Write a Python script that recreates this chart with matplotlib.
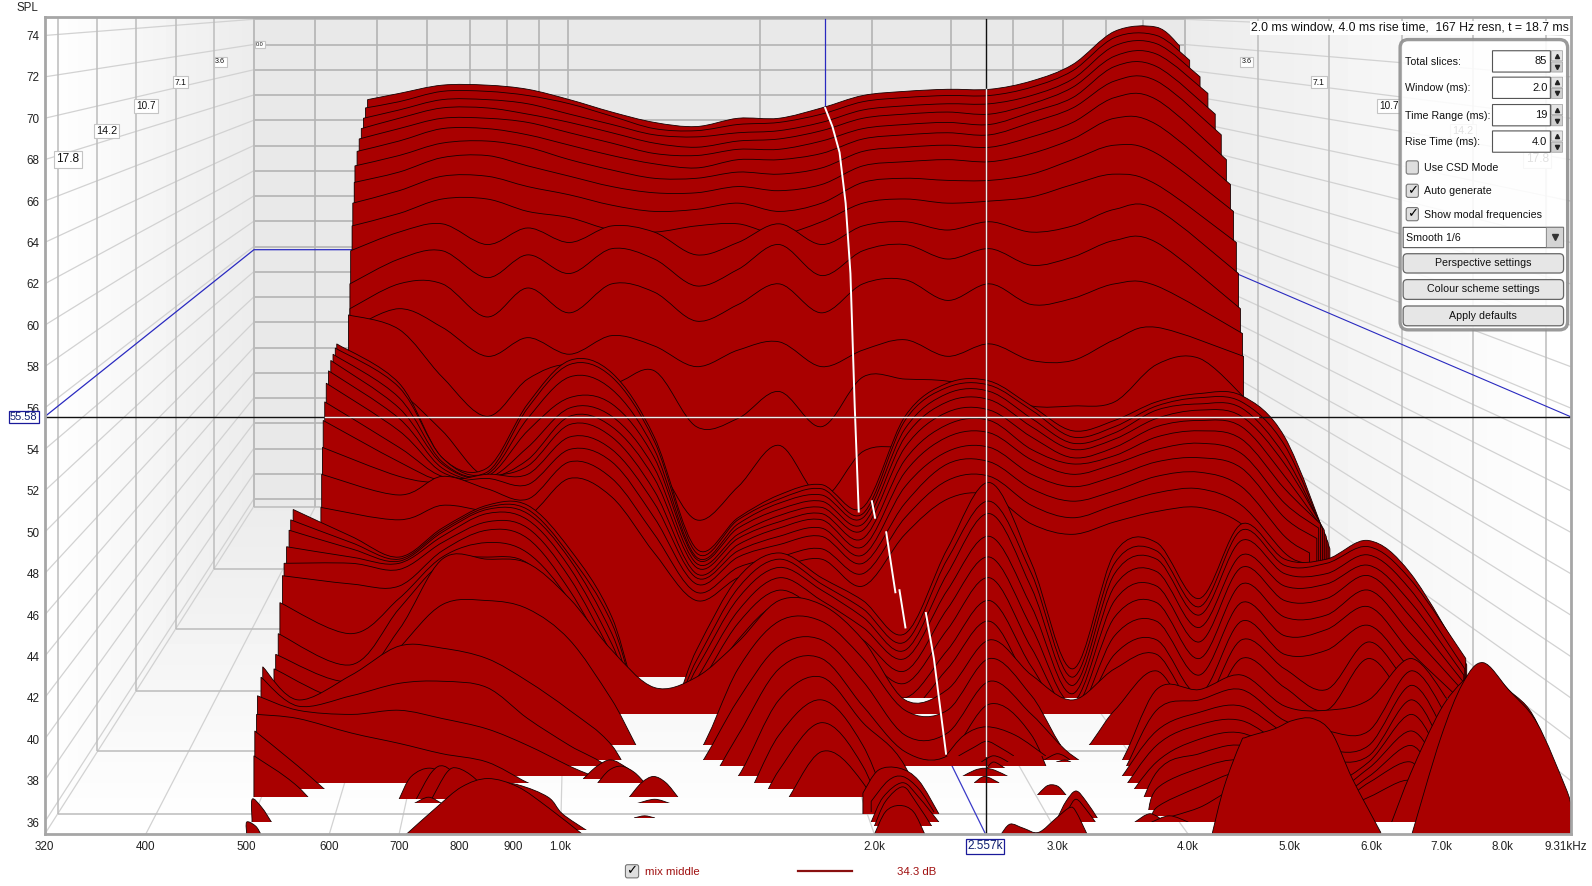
"""Waterfall plot (REW style) of the 'mix middle' measurement."""
import matplotlib
matplotlib.use("Agg")
import matplotlib.pyplot as plt
import matplotlib.transforms as mtransforms
import numpy as np
from matplotlib.patches import FancyBboxPatch, PathPatch, Polygon, Rectangle
from matplotlib.path import Path

plt.rcParams["font.family"] = ["Liberation Sans", "DejaVu Sans"]

# ---------------------------------------------------------------------------
# Data
# ---------------------------------------------------------------------------
GRID_HZ = [500, 560, 630, 700, 770, 850, 930, 1020, 1120, 1230, 1350, 1480, 1620, 1780, 1950, 2140,
           2350, 2580, 2830, 3100, 3400, 3730, 4100, 4500, 4950, 5430, 5960, 6540, 7170, 7870, 8630, 9310]

FREQ_TICKS = [320, 400, 500, 600, 700, 800, 900, 1000, 2000, 3000, 4000, 5000, 6000, 7000, 8000, 9310]
FREQ_LABELS = ["320", "400", "500", "600", "700", "800", "900", "1.0k", "2.0k", "3.0k", "4.0k", "5.0k",
               "6.0k", "7.0k", "8.0k", "9.31kHz"]
SPL_TICKS = list(range(36, 76, 2))
TIME_TICKS = [17.8, 14.2, 10.7, 7.1, 3.6, 0.0]

# plateau slices (first in time, at the back), grid columns from index 2
plateau_left = [653, 650, 647, 644, 641, 638, 635, 634, 632, 631, 629, 628, 628, 628, 626, 625]
plateau_right = [3925, 4013, 4106, 4178, 4246, 4303, 4352, 4391, 4421, 4449, 4470, 4489, 4510, 4520, 4530, 4530]
plateau_spl = [
    [70.9, 71.2, 71.6, 71.6, 71.4, 70.9, 70.3, 69.8, 69.6, 70.0, 70.0, 70.5, 71.1, 71.3, 71.4, 71.4, 71.8, 72.6, 74.2, 74.4, 73.5],
    [70.5, 70.8, 71.3, 71.3, 71.1, 70.7, 70.1, 69.5, 69.4, 69.7, 69.8, 70.2, 70.8, 71.0, 71.1, 71.1, 71.5, 72.3, 73.9, 74.0, 72.8],
    [70.0, 70.4, 70.9, 70.9, 70.7, 70.2, 69.7, 69.2, 69.1, 69.3, 69.4, 69.8, 70.4, 70.6, 70.7, 70.7, 71.1, 71.9, 73.5, 73.6, 72.0],
    [69.5, 70.0, 70.5, 70.5, 70.2, 69.8, 69.3, 68.8, 68.6, 68.9, 69.0, 69.4, 70.0, 70.2, 70.3, 70.2, 70.7, 71.5, 73.0, 73.1, 71.2],
    [69.0, 69.5, 70.0, 70.0, 69.8, 69.3, 68.8, 68.3, 68.2, 68.5, 68.5, 68.9, 69.5, 69.7, 69.8, 69.7, 70.3, 71.0, 72.5, 72.5, 70.2],
    [68.4, 68.9, 69.5, 69.5, 69.2, 68.7, 68.2, 67.8, 67.6, 68.0, 68.0, 68.3, 69.0, 69.2, 69.3, 69.2, 69.8, 70.5, 71.8, 71.8, 69.2],
    [67.7, 68.2, 68.8, 68.9, 68.6, 68.0, 67.5, 67.1, 67.1, 67.4, 67.3, 67.6, 68.4, 68.6, 68.7, 68.6, 69.1, 69.8, 71.0, 70.9, 68.0],
    [66.9, 67.4, 68.1, 68.2, 67.7, 67.2, 66.7, 66.4, 66.4, 66.7, 66.5, 66.8, 67.7, 67.9, 68.0, 67.9, 68.3, 69.0, 70.0, 69.7, 66.8],
    [65.9, 66.5, 67.2, 67.2, 66.7, 66.3, 65.8, 65.5, 65.6, 65.9, 65.5, 65.9, 66.9, 67.1, 67.0, 67.0, 67.3, 68.0, 68.7, 68.3, 65.5],
    [64.8, 65.4, 66.1, 66.1, 65.5, 65.2, 64.6, 64.5, 64.8, 64.9, 64.4, 65.0, 65.9, 66.1, 65.9, 66.0, 66.2, 66.8, 67.3, 66.8, 64.0],
    [63.6, 64.5, 64.9, 63.9, 64.7, 64.0, 64.8, 64.5, 63.4, 64.0, 64.9, 63.9, 64.8, 65.0, 64.6, 65.0, 64.5, 64.8, 65.6, 65.6, 62.5],
    [62.0, 63.2, 63.6, 62.3, 63.4, 62.5, 63.7, 63.2, 61.9, 62.7, 63.9, 62.4, 63.6, 63.9, 63.2, 63.7, 62.9, 63.3, 64.1, 64.0, 60.8],
    [60.8, 62.0, 62.0, 60.4, 61.8, 60.6, 62.0, 61.6, 60.2, 61.0, 62.0, 60.6, 62.0, 62.2, 61.2, 62.0, 61.0, 61.3, 62.0, 61.9, 59.6],
    [59.8, 60.8, 59.9, 58.5, 59.4, 58.6, 59.5, 59.0, 58.0, 58.8, 59.2, 58.0, 58.8, 59.3, 58.5, 59.1, 58.3, 58.3, 59.3, 59.9, 58.5],
    [60.5, 59.8, 57.5, 55.6, 57.4, 58.1, 57.2, 57.8, 55.1, 55.5, 56.8, 55.1, 57.5, 57.4, 57.3, 56.8, 56.1, 56.1, 56.3, 58.1, 58.4, 56.5],
    [58.1, 56.8, 54.9, 52.7, 54.6, 55.5, 53.9, 53.4, 50.6, 52.2, 54.2, 51.7, 53.9, 54.1, 54.1, 53.9, 52.9, 52.9, 53.4, 54.1, 54.1, 53.9],
]

# first decay ridges, grid columns from index 2
ridge_left = [610, 608, 605, 602, 599, 596, 594, 592, 591, 590, 589]
ridge_right = [5470, 5448, 5425, 5402, 5380, 5358, 5336, 5314, 5230, 5175, 5120]
ridge_spl = [
    [59.1, 57.2, 53.6, 53.1, 56.2, 58.3, 57.7, 54.6, 49.2, 50.7, 51.8, 52.3, 51.2, 55.6, 57.2, 57.3, 56.1, 54.9, 55.4, 56.3, 56.7, 56.6, 54.6, 49.2],
    [58.9, 57.0, 53.6, 52.9, 56.0, 58.1, 57.5, 54.4, 49.0, 50.6, 51.6, 52.1, 50.9, 55.4, 57.0, 57.1, 55.9, 54.6, 55.1, 56.1, 56.5, 56.3, 54.2, 49.5],
    [58.6, 56.5, 53.4, 52.8, 55.5, 57.5, 56.9, 54.0, 48.8, 50.4, 51.4, 51.8, 50.7, 55.0, 56.7, 56.8, 55.5, 54.3, 54.8, 55.9, 56.2, 56.0, 53.7, 49.8],
    [58.3, 56.0, 53.3, 52.7, 54.9, 56.5, 56.2, 53.6, 48.7, 50.2, 51.1, 51.5, 50.4, 54.6, 56.3, 56.4, 55.1, 54.0, 54.5, 55.5, 55.9, 55.6, 53.3, 50.1],
    [57.8, 55.5, 53.1, 52.6, 54.1, 56.0, 55.6, 53.1, 48.5, 49.9, 50.8, 51.2, 50.1, 54.1, 55.8, 55.9, 54.6, 53.6, 54.1, 55.1, 55.4, 55.1, 52.7, 50.2],
    [57.2, 54.9, 52.9, 52.6, 53.5, 55.6, 55.1, 52.6, 48.3, 49.7, 50.5, 50.9, 49.7, 53.5, 55.2, 55.4, 54.0, 53.3, 53.7, 54.6, 54.9, 54.5, 52.1, 50.4],
    [56.3, 54.1, 52.7, 52.7, 53.2, 55.2, 54.6, 52.0, 48.0, 49.4, 50.2, 50.6, 49.3, 52.9, 54.6, 54.8, 53.5, 52.8, 53.3, 54.0, 54.3, 53.8, 51.4, 50.2],
    [55.4, 53.4, 52.5, 52.8, 52.8, 54.6, 54.0, 51.4, 47.8, 49.1, 49.8, 50.2, 48.9, 52.2, 53.9, 54.1, 52.8, 52.2, 52.7, 53.4, 53.6, 53.1, 50.7, 49.7],
    [54.1, 52.7, 52.4, 52.6, 52.3, 54.0, 53.4, 50.7, 47.5, 48.8, 49.4, 49.8, 48.5, 51.4, 53.3, 53.4, 52.1, 51.5, 52.0, 52.7, 52.9, 52.2, 49.8, 49.0],
    [52.8, 51.8, 52.7, 52.1, 51.6, 53.4, 52.6, 49.9, 47.1, 48.3, 48.8, 49.2, 48.0, 50.7, 52.5, 52.7, 51.3, 50.7, 51.3, 51.9, 52.1, 51.3, 49.0, 48.5],
    [51.2, 50.6, 51.3, 51.0, 50.8, 52.6, 51.7, 49.0, 46.7, 47.8, 48.3, 48.7, 47.4, 49.9, 51.6, 51.8, 50.4, 49.9, 50.5, 51.0, 51.2, 50.4, 48.2, 47.8],
]

# middle slices, grid columns from index 1
middle_left = [554, 551, 549, 546, 543, 541, 538, 536, 533, 531]
middle_right = [7400, 7384, 7368, 7352, 7336, 7320, 7304, 7288, 7255, 7190]
middle_base = [42.0, 42.0, 42.0, 42.0, 42.0, 42.0, 42.0, 42.0, 41.2, 39.7]
middle_spl = [
    [51.1, 49.8, 48.8, 50.2, 51.3, 51.3, 49.2, 45.9, 40.0, 44.3, 47.8, 49.0, 47.8, 46.7, 45.1, 49.2, 52.4, 48.5, 43.4, 49.0, 49.5, 46.8, 50.4, 48.7, 48.7, 49.6, 48.0, 43.6],
    [50.6, 49.5, 48.7, 50.1, 51.2, 51.1, 48.9, 45.6, 40.0, 43.8, 47.3, 48.7, 47.5, 46.3, 44.7, 48.7, 51.5, 48.0, 43.0, 48.5, 49.1, 46.4, 50.1, 48.4, 48.5, 49.3, 47.7, 43.9],
    [50.1, 49.2, 48.6, 50.0, 51.1, 50.9, 48.7, 45.1, 40.0, 43.4, 46.8, 48.3, 47.2, 45.9, 44.3, 48.0, 50.9, 47.3, 42.6, 48.0, 48.7, 46.0, 49.6, 48.0, 48.0, 48.9, 47.2, 43.4],
    [49.3, 48.8, 48.5, 49.8, 50.9, 50.6, 48.3, 44.6, 40.0, 42.9, 46.2, 47.8, 46.7, 45.4, 43.9, 47.2, 49.8, 46.4, 42.2, 47.4, 48.1, 45.4, 48.9, 47.4, 47.5, 48.4, 46.6, 43.1],
    [48.5, 48.5, 48.2, 49.5, 50.5, 50.2, 47.8, 44.1, 40.0, 42.4, 45.6, 47.2, 46.1, 44.8, 43.3, 46.3, 48.8, 45.4, 41.8, 46.7, 47.4, 44.7, 48.3, 46.7, 46.8, 47.9, 45.9, 42.8],
    [47.9, 47.5, 47.4, 49.1, 50.1, 49.7, 47.2, 43.6, 40.0, 41.9, 44.8, 46.5, 45.4, 44.1, 42.7, 45.3, 47.8, 44.4, 41.4, 45.9, 46.6, 43.9, 47.5, 45.9, 46.0, 47.2, 45.1, 42.4],
    [46.6, 45.1, 46.8, 48.8, 49.5, 49.0, 46.7, 43.0, 40.0, 41.4, 44.0, 45.7, 44.6, 43.4, 42.0, 44.3, 46.7, 43.5, 41.0, 45.0, 45.7, 43.1, 46.6, 45.0, 45.3, 46.4, 44.2, 41.9],
    [45.1, 43.6, 46.3, 48.5, 48.8, 48.5, 46.1, 42.4, 40.0, 41.0, 43.3, 44.9, 43.9, 42.6, 41.3, 43.4, 45.7, 42.5, 40.6, 44.1, 44.8, 42.2, 45.7, 44.1, 44.3, 45.5, 43.4, 41.4],
    [44.1, 42.8, 45.3, 48.7, 48.7, 48.5, 46.8, 44.3, 42.5, 43.0, 44.7, 46.7, 46.5, 44.8, 41.9, 42.4, 44.8, 43.1, 41.9, 43.4, 44.1, 41.5, 44.8, 43.4, 42.4, 44.7, 42.6, 41.4],
    [43.4, 41.9, 44.4, 46.5, 46.7, 46.3, 44.8, 41.9, 38.5, 39.2, 43.4, 45.7, 45.7, 43.9, 41.4, 41.4, 43.9, 42.1, 39.2, 41.4, 43.3, 40.8, 43.9, 42.5, 41.4, 43.9, 41.6, 40.4],
]

# late slices, whole grid from index 0
late_left = [518, 516, 512, 511, 509, 508]
late_right = [7095, 7065, 7035, 7005, 6975, 6945]
late_base = [39.0, 38.7, 38.2, 37.9, 37.6, 37.2]
late_spl = [
    [43.5, 41.9, 43.1, 44.5, 44.4, 43.9, 42.8, 41.4, 39.7, 36.5, 38.5, 41.9, 44.5, 44.8, 42.8, 40.2, 40.3, 42.8, 41.2, 39.2, 38.5, 42.4, 42.4, 43.1, 41.6, 41.4, 41.9, 43.9, 41.9],
    [43.0, 41.6, 42.1, 42.7, 42.8, 42.5, 41.0, 39.7, 38.5, 36.0, 37.0, 40.2, 43.4, 43.9, 41.6, 39.4, 39.2, 41.7, 40.2, 36.0, 37.7, 41.4, 41.9, 42.4, 40.9, 40.4, 40.4, 43.3, 41.2],
    [42.1, 41.4, 41.2, 41.4, 41.0, 40.5, 39.7, 38.7, 37.7, 35.5, 36.0, 38.2, 41.9, 43.0, 40.8, 38.7, 33.6, 33.6, 33.6, 35.0, 37.7, 40.4, 41.3, 41.6, 40.3, 39.5, 39.7, 42.6, 40.4],
    [41.2, 41.0, 40.3, 39.8, 39.3, 38.9, 37.9, 37.0, 36.0, 35.0, 35.5, 36.5, 40.2, 41.9, 39.7, 35.0, 33.6, 33.6, 33.6, 34.5, 37.0, 39.7, 40.7, 40.9, 39.7, 39.0, 39.2, 41.9, 39.7],
    [40.4, 38.7, 36.5, 35, 35, 35, 35, 35, 35, 35, 35, 35, 38.5, 40.8, 38.7, 34, 34, 34, 34, 34, 36.3, 38.9, 40.0, 40.3, 39.2, 37.9, 38.9, 41.2, 39.2],
    [39.2, 37.7, 35, 35, 35, 35, 35, 35, 35, 35, 35, 35, 36.5, 39.4, 37.9, 34, 34, 34, 34, 34, 34, 38.4, 39.3, 39.7, 38.7, 37.4, 38.6, 40.4, 38.7],
]

# last slices that only survive above 4 kHz, grid columns from index 20
tail_left = [3653, 3695, 3778]
tail_right = [6920, 6845, 6770]
tail_base = [36.6, 36.3, 36.0]
tail_spl = [
    [36.0, 37.6, 38.6, 39.0, 38.2, 37.0, 38.2, 39.7, 38.0],
    [35.8, 36.7, 37.7, 38.4, 37.7, 36.6, 37.9, 38.9, 37.2],
    [35.5, 36.0, 36.7, 37.7, 37.2, 36.3, 37.2, 38.0, 36.3],
]

# isolated humps near the floor
hump_hz = [
    [700, 719, 751, 786, 804], [727, 752, 773, 804, 832], [752, 778, 797, 828, 860], [724, 747, 769],
    [850, 910, 973, 1004, 1059],
    [1052, 1084, 1118, 1159, 1190], [1086, 1113, 1144, 1177, 1204], [1164, 1196, 1228, 1262, 1296],
    [1185, 1231, 1273], [1177, 1204, 1231], [506, 506, 517, 528], [500, 500, 510, 516],
    [1950, 2017, 2114, 2206, 2306], [1986, 2062, 2129, 2206, 2281], [1986, 2039, 2129, 2206, 2306],
    [2000, 2050, 2129, 2190, 2270], [2000, 2050, 2114, 2180, 2236],
    [2343, 2439, 2563, 2729, 2919], [2410, 2490, 2563, 2640, 2720],
    [2533, 2570, 2603, 2645, 2687], [2563, 2603, 2668], [2429, 2495, 2552, 2610, 2687], [2495, 2552, 2633],
    [2911, 2958, 2998, 3040, 3080], [2990, 3046, 3086], [2867, 2919, 2958, 3005, 3054],
    [2998, 3054, 3122, 3193, 3272], [3011, 3067, 3122, 3193, 3258],
    [2645, 2699, 2780, 2874, 2990, 3080, 3122, 3200],
    [3556, 3678, 3803], [3690, 3838, 4000],
    [6270, 6544, 6980, 7335, 7672, 8114, 8640, 9310],
    [711, 760, 804, 852, 910, 973, 1050],
    [4216, 4330, 4489, 4550, 4838, 5034, 5265, 5494, 5747, 6120],
    [6555, 6980, 7335, 7672, 8114, 8640, 9200, 9310],
]
hump_spl = [
    [37.1, 38.2, 38.6, 38.0, 37.1], [37.1, 38.4, 38.7, 38.0, 37.1], [37.1, 38.4, 38.6, 38.1, 37.1], [36.9, 37.2, 36.9],
    [38.0, 37.8, 37.2, 36.4, 35.6],
    [38.1, 38.7, 39.0, 38.6, 38.1], [37.9, 38.5, 38.7, 38.4, 37.9], [37.2, 37.9, 38.2, 37.9, 37.2],
    [36.9, 37.1, 36.9], [36.2, 36.3, 36.2], [36.0, 37.1, 36.7, 36.0], [35.4, 36.0, 35.8, 35.4],
    [37.4, 38.5, 38.6, 38.0, 36.4], [37.0, 38.0, 38.2, 37.6, 36.5], [36.0, 37.2, 37.9, 37.2, 36.0],
    [35.8, 37.0, 37.7, 37.0, 35.8], [35.4, 36.5, 36.8, 36.5, 35.4],
    [39.2, 40.2, 40.6, 40.2, 39.2], [39.2, 39.6, 39.9, 39.6, 39.2],
    [38.9, 39.1, 39.2, 39.1, 38.9], [38.6, 38.9, 38.6], [38.2, 38.5, 38.6, 38.5, 38.2], [37.9, 38.2, 37.9],
    [39.0, 39.2, 39.3, 39.2, 39.0], [38.9, 39.0, 38.9], [37.3, 37.7, 37.8, 37.7, 37.3],
    [36.2, 37.0, 37.5, 37.0, 36.2], [36.0, 36.6, 37.1, 36.6, 36.0],
    [35.4, 35.9, 35.7, 35.5, 36.2, 36.7, 36.5, 35.4],
    [36.0, 36.4, 36.0], [36.0, 36.3, 36.0],
    [36.0, 38.4, 41.4, 42.8, 43.5, 42.4, 40.8, 36.0],
    [35.4, 36.7, 37.7, 38.1, 37.7, 36.7, 35.4],
    [35.4, 37.7, 39.8, 40.1, 40.5, 40.9, 41.0, 40.3, 38.1, 35.5],
    [35.4, 40.0, 42.7, 43.7, 42.4, 40.8, 37.7, 36.9],
]

# modal frequency track, nan where it is hidden
modal_hz = [1794, 1823, 1852, 1877, 1897, 1915, 1932, np.nan, 1989, 2003, np.nan, 2053, 2095, np.nan, 2114, 2142, np.nan, 2241, 2281, 2343]
modal_spl = [70.5, 69.6, 68.35, 65.9, 62.5, 56.1, 51.0, np.nan, 51.5, 50.7, np.nan, 50.0, 47.1, np.nan, 47.2, 45.4, np.nan, 46.1, 43.9, 39.3]

CURSOR_HZ = 2557
CURSOR_SPL = 55.58

FREQ_MIN, FREQ_MAX = 320, 9310
SPL_MIN, SPL_MAX = 35.41, 74.88
TIME_RANGE = 19.0

RED = "#a90000"
BACK_WALL = 0.61      # scale of the t=0 plane against the front plane
VANISH_U, VANISH_V = 0.3513, 1.0286


# ---------------------------------------------------------------------------
# Helpers
# ---------------------------------------------------------------------------
def slice_path(hz, spl):
    """Closed path, smoothed through the points (Catmull-Rom in log frequency)."""
    pts = np.column_stack([np.log10(hz), spl])
    n = len(pts)
    verts = [(pts[0, 0], 25.0), tuple(pts[0])]
    codes = [Path.MOVETO, Path.LINETO]
    for i in range(n - 1):
        p0, p1, p2, p3 = pts[max(i - 1, 0)], pts[i], pts[i + 1], pts[min(i + 2, n - 1)]
        verts += [tuple(p1 + (p2 - p0) / 6), tuple(p2 - (p3 - p1) / 6), tuple(p2)]
        codes += [Path.CURVE4] * 3
    verts += [(pts[-1, 0], 25.0), (pts[0, 0], 25.0)]
    codes += [Path.LINETO, Path.CLOSEPOLY]
    verts = np.array(verts)
    verts[:, 0] = 10 ** verts[:, 0]
    return Path(verts, codes)


def draw_slice(ax, hz, spl, base):
    patch = PathPatch(slice_path(hz, spl), facecolor=RED, edgecolor="#150000", linewidth=0.6, zorder=3)
    ax.add_patch(patch)
    base = max(base, SPL_MIN)
    patch.set_clip_path(Rectangle((FREQ_MIN, base), FREQ_MAX - FREQ_MIN, SPL_MAX - base, transform=ax.transData))


def draw_grid_slices(ax, start, lefts, rights, bases, rows):
    for left, right, base, row in zip(lefts, rights, bases, rows):
        hz = list(GRID_HZ[start:start + len(row)])
        hz[0], hz[-1] = left, right
        draw_slice(ax, hz, row, base)


def project(u, v, s):
    return VANISH_U + s * (u - VANISH_U), VANISH_V + s * (v - VANISH_V)


def u_of(hz):
    return np.log(hz / FREQ_MIN) / np.log(FREQ_MAX / FREQ_MIN)


def v_of(spl):
    return (spl - SPL_MIN) / (SPL_MAX - SPL_MIN)


def plane_scale(t):
    return BACK_WALL + (1 - BACK_WALL) * t / TIME_RANGE


def axes_line(ax, a, b, color, lw):
    ax.plot([a[0], b[0]], [a[1], b[1]], color=color, lw=lw, transform=ax.transAxes, zorder=1, solid_capstyle="butt")


def draw_background(bg):
    """Gradient walls and floor, in axes fractions."""
    bg.set_xlim(0, 1)
    bg.set_ylim(0, 1)
    bg.axis("off")
    ul, vf = project(0, 0, BACK_WALL)
    ur, _ = project(1, 0, BACK_WALL)
    bg.add_patch(Rectangle((ul, vf), ur - ul, 1 - vf, facecolor="#e9e9e9", edgecolor="none", zorder=0))
    ramp = np.linspace(1.0, 0.925, 64)
    horiz = ramp.reshape(1, -1)
    shade = dict(cmap="gray", vmin=0, vmax=1, aspect="auto", origin="lower", zorder=1)
    im = bg.imshow(horiz, extent=(0, ul, 0, 1), **shade)
    im.set_clip_path(Polygon([(0, 0), (ul, vf), (ul, 1), (0, 1)], transform=bg.transData))
    im = bg.imshow(horiz[:, ::-1], extent=(ur, 1, 0, 1), **shade)
    im.set_clip_path(Polygon([(1, 0), (ur, vf), (ur, 1), (1, 1)], transform=bg.transData))
    im = bg.imshow(ramp.reshape(-1, 1), extent=(0, 1, 0, vf), **shade)
    im.set_clip_path(Polygon([(0, 0), (1, 0), (ur, vf), (ul, vf)], transform=bg.transData))
    bg.set_xlim(0, 1)
    bg.set_ylim(0, 1)


def draw_grid(ax):
    for spl in range(36, 80, 2):
        v = v_of(spl)
        axes_line(ax, (0, v), project(0, v, BACK_WALL), "#d2d2d2", 0.9)
        axes_line(ax, (1, v), project(1, v, BACK_WALL), "#d2d2d2", 0.9)
        axes_line(ax, project(0, v, BACK_WALL), project(1, v, BACK_WALL), "#b4b4b4", 1.2)
    for hz in FREQ_TICKS:
        u = u_of(hz)
        axes_line(ax, (u, 0), project(u, 0, BACK_WALL), "#d2d2d2", 0.9)
        axes_line(ax, project(u, 0, BACK_WALL), project(u, 1.2, BACK_WALL), "#b4b4b4", 1.2)
    for t in TIME_TICKS:
        s = plane_scale(t)
        for u in (0, 1):
            axes_line(ax, project(u, 0, s), project(u, 1.2, s), "#bcbcbc", 1.1)
        axes_line(ax, project(0, 0, s), project(1, 0, s), "#bcbcbc", 1.1)


def widget_box(ui, x0, y0, x1, y1, face="white", edge="#707070", pad=0.0, lw=0.8, alpha=1.0):
    box = FancyBboxPatch((x0, y0), x1 - x0, y1 - y0, boxstyle=f"round,pad=0,rounding_size={pad}",
                         facecolor=face, edgecolor=edge, linewidth=lw, alpha=alpha)
    ui.add_patch(box)


def draw_panel(ui):
    widget_box(ui, 1379, 39, 1544, 325, face="white", edge="#8c8c8c", pad=8, lw=2.4, alpha=0.88)
    rows = [("Total slices:", "85", 50), ("Window (ms):", "2.0", 76), ("Time Range (ms):", "19", 103), ("Rise Time (ms):", "4.0", 129)]
    for label, value, y in rows:
        ui.text(1384, y + 11, label, fontsize=7.7, va="center", color="#111111")
        widget_box(ui, 1470, y, 1527, y + 21, edge="#555555")
        ui.text(1524, y + 10.5, value, fontsize=8, va="center", ha="right", color="#111111")
        widget_box(ui, 1528, y, 1539, y + 10, face="#e4e4e4", edge="#999999", lw=0.5)
        widget_box(ui, 1528, y + 11, 1539, y + 21, face="#cfcfcf", edge="#999999", lw=0.5)
        ui.plot([1533.5], [y + 5], marker="^", ms=3, color="#222222")
        ui.plot([1533.5], [y + 16], marker="v", ms=3, color="#222222")
    checks = [("Use CSD Mode", False, 165), ("Auto generate", True, 188), ("Show modal frequencies", True, 211)]
    for label, ticked, y in checks:
        widget_box(ui, 1385, y - 6.5, 1397, y + 6.5, face="#dedede", edge="#777777", pad=2)
        if ticked:
            ui.text(1391, y, "\u2713", family="DejaVu Sans", fontsize=9.5, fontweight="bold", ha="center", va="center", color="black")
        ui.text(1403, y + 0.5, label, fontsize=7.7, va="center", color="#111111")
    widget_box(ui, 1382, 224, 1540, 244, edge="#555555")
    widget_box(ui, 1523, 224, 1540, 244, face="#d4d4d4", edge="#777777", lw=0.6)
    ui.plot([1531.5], [234], marker="v", ms=4.5, color="#333333")
    ui.text(1385, 234.5, "Smooth 1/6", fontsize=7.7, va="center", color="#111111")
    buttons = [("Perspective settings", 250, 269), ("Colour scheme settings", 275.5, 295), ("Apply defaults", 301.5, 321)]
    for label, y0, y1 in buttons:
        widget_box(ui, 1382, y0, 1540, y1, face="#e6e6e6", edge="#666666", pad=4, lw=0.9)
        ui.text(1461, (y0 + y1) / 2, label, fontsize=7.7, ha="center", va="center", color="#111111")


def draw_overlay(ui):
    ui.set_xlim(0, 1568)
    ui.set_ylim(873, 0)
    ui.axis("off")

    # time labels on both walls, they shrink towards the back wall and sit under the panel
    sizes = [8.6, 7.8, 7.2, 6.2, 5.2, 4.0]
    ys = [157, 129, 104, 81, 61, 44]
    left_x = [67, 105, 144, 178, 217, 256]
    right_x = [1514, 1441, 1368, 1299, 1228]
    for xs in (left_x, right_x):
        for t, size, x, y in zip(TIME_TICKS, sizes, xs, ys):
            ui.text(x, y, f"{t:.1f}", fontsize=size, ha="center", va="center", color="#111111", zorder=0.5,
                    bbox=dict(boxstyle="square,pad=0.2", fc="white", ec="#c4c4c4", lw=0.8))

    ui.text(1545, 27.5, "2.0 ms window, 4.0 ms rise time,  167 Hz resn, t = 18.7 ms", fontsize=8.85, ha="right", va="center",
            color="#111111", bbox=dict(boxstyle="square,pad=0.1", fc="white", ec="none"))
    ui.text(27, 7.5, "SPL", fontsize=8.3, ha="center", va="center", color="#222222")

    draw_panel(ui)

    # cursor read-outs
    ui.text(23.5, 411, f"{CURSOR_SPL:.2f}", fontsize=8.0, ha="center", va="center", color="#102070",
            bbox=dict(boxstyle="square,pad=0.1", fc="white", ec="#1a1a9a", lw=0.9))
    ui.text(970, 834, "2.557k", fontsize=8.5, ha="center", va="center", color="#102070",
            bbox=dict(boxstyle="square,pad=0.12", fc="white", ec="#1a1a9a", lw=0.9))

    # legend row under the plot
    widget_box(ui, 616, 852, 629, 865, face="#dedede", edge="#777777", pad=2)
    ui.text(622.5, 858, "\u2713", family="DejaVu Sans", fontsize=9.5, fontweight="bold", ha="center", va="center", color="black")
    ui.text(635, 859, "mix middle", fontsize=8.2, va="center", color="#a01010")
    ui.plot([786, 839], [858.5, 858.5], color="#8a1010", lw=1.6)
    ui.text(883, 859, "34.3 dB", fontsize=8.2, va="center", color="#a01010")


# ---------------------------------------------------------------------------
# Main
# ---------------------------------------------------------------------------
def main():
    fig = plt.figure(figsize=(15.92, 8.86), dpi=100, facecolor="white")
    rect = [44 / 1568, 1 - 822 / 873, 1503 / 1568, 805 / 873]

    bg = fig.add_axes(rect, zorder=0)
    draw_background(bg)

    ax = fig.add_axes(rect, zorder=1)
    ax.patch.set_alpha(0)
    ax.set_xscale("log")
    ax.set_xlim(FREQ_MIN, FREQ_MAX)
    ax.set_ylim(SPL_MIN, SPL_MAX)
    ax.set_xticks(FREQ_TICKS, FREQ_LABELS)
    ax.xaxis.set_minor_locator(plt.NullLocator())
    ax.set_yticks(SPL_TICKS)
    ax.tick_params(axis="x", length=0, labelsize=8.4, labelcolor="#222222", pad=5)
    ax.tick_params(axis="y", length=0, labelsize=8.4, labelcolor="#222222", pad=3.5)
    last = ax.get_xticklabels()[-1]
    last.set_transform(last.get_transform() + mtransforms.ScaledTranslation(-5 / 100, 0, fig.dpi_scale_trans))
    for spine in ax.spines.values():
        spine.set_color("#a6a6a6")
        spine.set_linewidth(2.0)
        spine.set_zorder(8)

    draw_grid(ax)

    # cursor traces on the walls, behind the slices
    ax.plot([320, 508, 633], [CURSOR_SPL, 63.65, 63.65], color="#2a2ac0", lw=0.9, zorder=2)
    ax.plot([9310, 4449], [CURSOR_SPL, 62.5], color="#2a2ac0", lw=0.8, zorder=2)
    ax.plot([1794, 1794], [SPL_MAX, 70.5], color="#2a2ac0", lw=0.9, zorder=2)
    ax.plot([2343, CURSOR_HZ], [39.3, SPL_MIN], color="#3a3ac8", lw=0.9, zorder=2)

    draw_grid_slices(ax, 2, plateau_left, plateau_right, [45.0] * len(plateau_spl), plateau_spl)
    draw_grid_slices(ax, 2, ridge_left, ridge_right, [43.0] * len(ridge_spl), ridge_spl)
    draw_grid_slices(ax, 1, middle_left, middle_right, middle_base, middle_spl)
    draw_grid_slices(ax, 0, late_left, late_right, late_base, late_spl)
    draw_grid_slices(ax, 20, tail_left, tail_right, tail_base, tail_spl)
    for hz, spl in zip(hump_hz, hump_spl):
        draw_slice(ax, hz, spl, min(spl))

    # modal track and cross hair
    ax.plot(modal_hz, modal_spl, color="white", lw=1.4, zorder=4)
    ax.axhline(CURSOR_SPL, color="#111111", lw=1.0, zorder=5)
    ax.axvline(CURSOR_HZ, color="#111111", lw=1.0, zorder=5)
    ax.plot([594, 4670], [CURSOR_SPL, CURSOR_SPL], color="#eeeeee", lw=1.0, zorder=6)
    ax.plot([CURSOR_HZ, CURSOR_HZ], [71.4, 39.2], color="#eeeeee", lw=1.0, zorder=6)

    ui = fig.add_axes([0, 0, 1, 1], zorder=2)
    ui.patch.set_alpha(0)
    draw_overlay(ui)

    fig.savefig("out.png", dpi=100)


if __name__ == "__main__":
    main()
